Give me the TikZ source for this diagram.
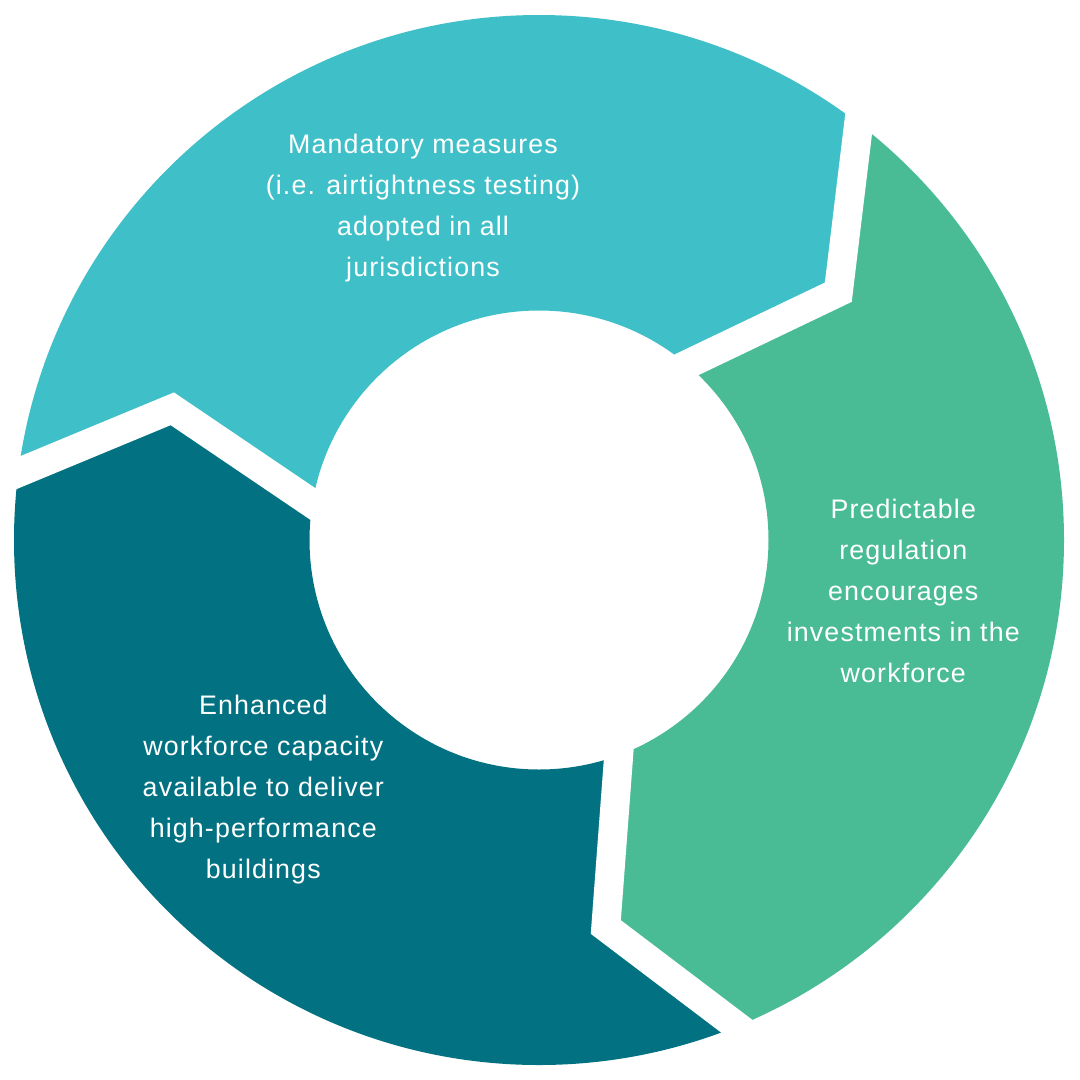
\documentclass[tikz,border=0pt]{standalone}
\usepackage{fontspec}
\setmainfont{Liberation Sans}
\newfontfamily\lblfont[LetterSpace=4.2]{Liberation Sans}
\definecolor{cA}{HTML}{3FC0C8}
\definecolor{cB}{HTML}{4ABC95}
\definecolor{cC}{HTML}{027282}
\begin{document}
\begin{tikzpicture}[x=1pt,y=-1pt,
  lbl/.style={text=white,font=\lblfont\fontsize{26.8}{41}\selectfont,anchor=base,inner sep=0pt},
  gapline/.style={draw=white,line width=29pt,line join=miter,miter limit=10}]
\useasboundingbox (0,0) rectangle (1080,1080);
\fill[white] (0,0) rectangle (1080,1080);
% centre and cut lines
\coordinate (O) at (539,540);
\coordinate (Aout) at (-74.1,511.0);
\coordinate (Amid) at (172.3,408.8);
\coordinate (Ain) at (382.6,551.2);
\coordinate (Bout) at (870.9,22.3);
\coordinate (Bmid) at (838.3,292.2);
\coordinate (Bin) at (611.1,400.9);
\coordinate (Cout) at (814.9,1085.4);
\coordinate (Cmid) at (605.8,927);
\coordinate (Cin) at (625.2,668.3);
\begin{scope}[even odd rule]
  \clip (O) circle (525pt) (O) circle (229.5pt);
  \fill[cA] (O) -- (Ain) -- (Amid) -- (Aout) -- (-300,400) -- (-300,-300) -- (1100,-300) -- (Bout) -- (Bmid) -- (Bin) -- cycle;
  \fill[cB] (O) -- (Bin) -- (Bmid) -- (Bout) -- (1100,-300) -- (1400,-300) -- (1400,1400) -- (900,1400) -- (Cout) -- (Cmid) -- (Cin) -- cycle;
  \fill[cC] (O) -- (Cin) -- (Cmid) -- (Cout) -- (900,1400) -- (-300,1400) -- (-300,400) -- (Aout) -- (Amid) -- (Ain) -- cycle;
\end{scope}
\draw[gapline] (Aout) -- (Amid) -- (Ain);
\draw[gapline] (Bout) -- (Bmid) -- (Bin);
\draw[gapline] (Cout) -- (Cmid) -- (Cin);
% labels
\node[lbl] (a1) at (423,153.3) {Mandatory measures};
\node[lbl] (a2) at (423,194.3) {(i.e. airtightness testing)};
\node[lbl] (a3) at (423,235.3) {adopted in all};
\node[lbl] (a4) at (423,276.3) {jurisdictions};
\node[lbl] (b1) at (903.3,518.3) {Predictable};
\node[lbl] (b2) at (903.3,559.3) {regulation};
\node[lbl] (b3) at (903.3,600.3) {encourages};
\node[lbl] (b4) at (903.3,641.3) {investments in the};
\node[lbl] (b5) at (903.3,682.3) {workforce};
\node[lbl] (c1) at (263.3,714.3) {Enhanced};
\node[lbl] (c2) at (263.3,755.3) {workforce capacity};
\node[lbl] (c3) at (263.3,796.3) {available to deliver};
\node[lbl] (c4) at (263.3,837.3) {high-performance};
\node[lbl] (c5) at (263.3,878.3) {buildings};
\end{tikzpicture}
\end{document}
